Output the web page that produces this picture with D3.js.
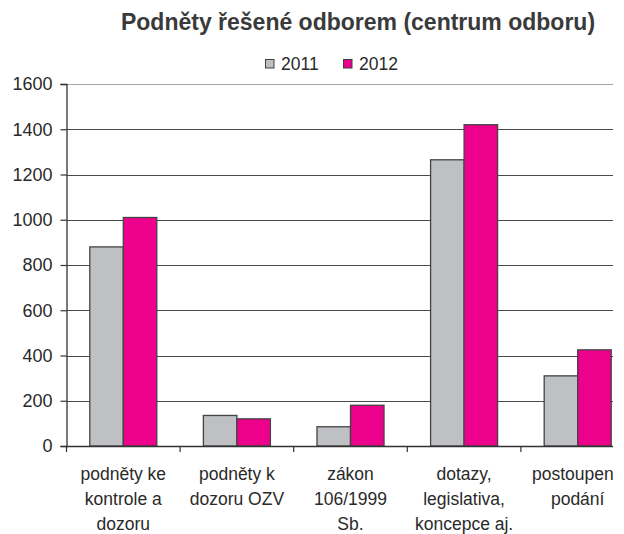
<!DOCTYPE html>
<html>
<head>
<meta charset="utf-8">
<script src="https://cdn.jsdelivr.net/npm/d3@7"></script>
<style>
  html, body { margin: 0; padding: 0; background: #fff; }
  svg { display: block; font-family: "Liberation Sans", Arial, sans-serif; }
</style>
</head>
<body>
<svg id="chart" width="624" height="534"></svg>
<script>
const categories = [
  ["podněty ke", "kontrole a", "dozoru"],
  ["podněty k", "dozoru OZV"],
  ["zákon", "106/1999", "Sb."],
  ["dotazy,", "legislativa,", "koncepce aj."],
  ["postoupená", "podání"]
];
const seriesNames = ["2011", "2012"];
const values2011 = [880, 135, 85, 1265, 310];
const values2012 = [1010, 120, 180, 1420, 425];
const yTicks = [0, 200, 400, 600, 800, 1000, 1200, 1400, 1600];
const titleText = "Podněty řešené odborem (centrum odboru)";

const colors = { "2011": "#bfc0c4", "2012": "#ec008c" };
const svg = d3.select("#chart");

const mLeft = 66.5, mTop = 84, mBottom = 446, rightFull = 634.5, clipRight = 613;
const x = d3.scaleBand().domain(d3.range(categories.length)).range([mLeft, rightFull]).padding(0);
const step = x.bandwidth();
const gap = step * 0.205;
const xs = d3.scaleBand().domain(seriesNames).range([gap, step - gap]).padding(0);
const y = d3.scaleLinear().domain([0, 1600]).range([mBottom, mTop]);

svg.append("defs").append("clipPath").attr("id", "clip")
  .append("rect").attr("x", 0).attr("y", 0).attr("width", clipRight).attr("height", 534);

// Title
svg.append("text").attr("x", 358).attr("y", 30).attr("text-anchor", "middle")
  .attr("font-weight", "bold").attr("font-size", 23).attr("fill", "#3a3a3a")
  .text(titleText);

// Legend
const legendX = [265, 343];
seriesNames.forEach((s, i) => {
  const g = svg.append("g").attr("transform", `translate(${legendX[i]},0)`);
  g.append("rect").attr("x", 0.5).attr("y", 59.5).attr("width", 8.5).attr("height", 8.5)
    .attr("fill", colors[s]).attr("stroke", "#404040").attr("stroke-width", 1);
  g.append("text").attr("x", 16).attr("y", 69.5).attr("font-size", 17.5).attr("fill", "#2a2a2a").text(s);
});

const plot = svg.append("g").attr("clip-path", "url(#clip)");

// Gridlines
plot.append("g").selectAll("line").data(yTicks.filter(d => d > 0)).join("line")
  .attr("x1", mLeft).attr("x2", rightFull)
  .attr("y1", d => Math.round(y(d)) + 0.5).attr("y2", d => Math.round(y(d)) + 0.5)
  .attr("stroke", d => d === 1600 ? "#a6a6a6" : "#4a4a4a").attr("stroke-width", 1.2);

// Bars
const data = categories.map((c, i) => ({ i, vals: [values2011[i], values2012[i]] }));
const groups = plot.append("g").selectAll("g").data(data).join("g")
  .attr("transform", d => `translate(${x(d.i)},0)`);
groups.selectAll("rect").data(d => seriesNames.map((s, k) => ({ s, v: d.vals[k] }))).join("rect")
  .attr("x", d => xs(d.s))
  .attr("y", d => y(d.v))
  .attr("width", xs.bandwidth())
  .attr("height", d => mBottom - y(d.v))
  .attr("fill", d => colors[d.s])
  .attr("stroke", "#444").attr("stroke-width", 1.3);

// X axis baseline and ticks
plot.append("line").attr("x1", mLeft).attr("x2", rightFull).attr("y1", mBottom + 0.5).attr("y2", mBottom + 0.5)
  .attr("stroke", "#333").attr("stroke-width", 1.3);
plot.append("g").selectAll("line").data(d3.range(categories.length + 1)).join("line")
  .attr("x1", d => mLeft + d * step).attr("x2", d => mLeft + d * step)
  .attr("y1", mBottom).attr("y2", mBottom + 6)
  .attr("stroke", "#333").attr("stroke-width", 1.2);

// Category labels
const labels = plot.append("g").selectAll("text").data(categories).join("text")
  .attr("x", (d, i) => x(i) + step / 2)
  .attr("text-anchor", "middle").attr("font-size", 17.5).attr("fill", "#2a2a2a");
labels.each(function(d) {
  const t = d3.select(this);
  d.forEach((line, k) => {
    t.append("tspan").attr("x", t.attr("x")).attr("y", 480 + k * 25).text(line);
  });
});

// Y axis
const yAxis = d3.axisLeft(y).tickValues(yTicks).tickFormat(d3.format("d")).tickSize(6).tickPadding(8);
const ya = svg.append("g").attr("transform", `translate(${mLeft},0)`).call(yAxis);
ya.select(".domain").attr("stroke", "#333").attr("stroke-width", 1.3);
ya.selectAll(".tick line").attr("stroke", "#333").attr("stroke-width", 1.2);
ya.selectAll(".tick text").attr("font-size", 18).attr("fill", "#2a2a2a")
  .attr("font-family", "Liberation Sans, Arial, sans-serif");
</script>
</body>
</html>
